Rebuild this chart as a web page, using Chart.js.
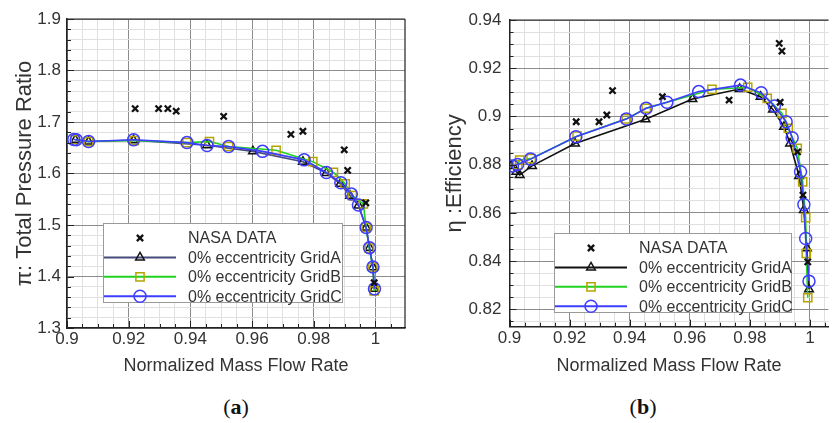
<!DOCTYPE html>
<html>
<head>
<meta charset="utf-8">
<script src="https://cdn.jsdelivr.net/npm/chart.js@4"></script>
<style>
  html, body { margin: 0; padding: 0; background: #fff; }
  body { width: 836px; height: 423px; position: relative; overflow: hidden; }
  .panel { position: absolute; top: 0; width: 418px; height: 390px; }
  .cap {
    position: absolute; top: 395px; line-height: 24px;
    font-family: "Liberation Serif", "DejaVu Serif", serif; font-size: 22px; color: #111;
    transform: translateX(-50%);
  }
</style>
</head>
<body>
<div class="panel" style="left:0"><canvas id="chartA"></canvas></div>
<div class="panel" style="left:418px"><canvas id="chartB"></canvas></div>
<div class="cap" style="left:236px">(<b>a</b>)</div>
<div class="cap" style="left:643px">(<b>b</b>)</div>

<script>
// ---- tick labels ----
const xTickLabels = ["0.9", "0.92", "0.94", "0.96", "0.98", "1"];
const yTickLabelsA = ["1.3", "1.4", "1.5", "1.6", "1.7", "1.8", "1.9"];
const yTickLabelsB = ["0.82", "0.84", "0.86", "0.88", "0.9", "0.92", "0.94"];

const legendLabels = ["NASA DATA", "0% eccentricity GridA", "0% eccentricity GridB", "0% eccentricity GridC"];

// ---- (a) total pressure ratio ----
const nasaXa = [0.9221, 0.9297, 0.9327, 0.9354, 0.9508, 0.9726, 0.9765, 0.9899, 0.9910, 0.9969, 0.9996];
const nasaYa = [1.726, 1.726, 1.726, 1.721, 1.711, 1.676, 1.682, 1.646, 1.606, 1.543, 1.388];

const gridAXa = [0.9027, 0.9070, 0.9216, 0.9454, 0.9603, 0.9765, 0.9841, 0.9886, 0.9918, 0.9945, 0.9970, 0.9981, 0.9992, 0.9996];
const gridAYa = [1.6655, 1.662, 1.6645, 1.655, 1.643, 1.623, 1.601, 1.580, 1.557, 1.538, 1.495, 1.456, 1.418, 1.376];

const gridBXa = [0.9027, 0.9070, 0.9218, 0.9389, 0.9462, 0.9524, 0.9678, 0.9797, 0.9864, 0.9902, 0.9925, 0.9961, 0.9970, 0.9980, 0.9992, 0.9996];
const gridBYa = [1.6655, 1.662, 1.664, 1.660, 1.662, 1.6524, 1.645, 1.623, 1.602, 1.580, 1.557, 1.541, 1.495, 1.455, 1.418, 1.372];

const gridCXa = [0.9022, 0.9030, 0.9070, 0.9216, 0.9389, 0.9454, 0.9524, 0.9634, 0.9769, 0.9841, 0.9888, 0.9922, 0.9945, 0.9970, 0.9981, 0.9992, 0.9997];
const gridCYa = [1.666, 1.6655, 1.662, 1.6655, 1.660, 1.6544, 1.6524, 1.643, 1.6265, 1.602, 1.582, 1.560, 1.539, 1.495, 1.456, 1.4185, 1.376];

// ---- (b) efficiency ----
const nasaXb = [0.9222, 0.9298, 0.9324, 0.9343, 0.9509, 0.9731, 0.9898, 0.9907, 0.9901, 0.9959, 0.9977, 0.9993];
const nasaYb = [0.8978, 0.8978, 0.9006, 0.9107, 0.9082, 0.9068, 0.9303, 0.9271, 0.9059, 0.8853, 0.8674, 0.8397];

const gridAXb = [0.9005, 0.9023, 0.9034, 0.9075, 0.9218, 0.9453, 0.9609, 0.9766, 0.9836, 0.9877, 0.9914, 0.9934, 0.9964, 0.9980, 0.9990, 0.9997];
const gridAYb = [0.8795, 0.8771, 0.8757, 0.8795, 0.8888, 0.8988, 0.9072, 0.9114, 0.9082, 0.9029, 0.8957, 0.8888, 0.8753, 0.8612, 0.8453, 0.8283];

const gridBXb = [0.9027, 0.9034, 0.9072, 0.9225, 0.9389, 0.9455, 0.9674, 0.9793, 0.9858, 0.9907, 0.9928, 0.9958, 0.9976, 0.9986, 0.9988, 0.9993];
const gridBYb = [0.8800, 0.8819, 0.8825, 0.8918, 0.8990, 0.9034, 0.9112, 0.9121, 0.9075, 0.9013, 0.8951, 0.8868, 0.8729, 0.8580, 0.8432, 0.8248];

const gridCXb = [0.9010, 0.9027, 0.9070, 0.9221, 0.9389, 0.9455, 0.9524, 0.9630, 0.9769, 0.9838, 0.9882, 0.9921, 0.9941, 0.9969, 0.9980, 0.9986, 0.9997];
const gridCYb = [0.8795, 0.8801, 0.8823, 0.8916, 0.8989, 0.9034, 0.9059, 0.9103, 0.9130, 0.9098, 0.9043, 0.8978, 0.8912, 0.8771, 0.8635, 0.8494, 0.8317];

const FONT = "'Liberation Sans', Arial, sans-serif";
const TEXT = "#333";

const pts = (xs, ys) => xs.map((x, i) => ({ x, y: ys[i] }));

// grid frame (top/right border + inward tick marks)
const framePlugin = {
  id: "frame",
  afterDatasetsDraw(chart, args, o) {
    const { ctx, chartArea: a } = chart;
    ctx.save();
    ctx.strokeStyle = "#222";
    ctx.lineWidth = 1.2;
    ctx.beginPath();
    ctx.moveTo(a.left, a.top); ctx.lineTo(a.right, a.top);
    if (o.right) { ctx.moveTo(a.right, a.top); ctx.lineTo(a.right, a.bottom); }
    ctx.stroke();
    ctx.lineWidth = 1;
    ctx.beginPath();
    chart.scales.x.ticks.forEach(t => {
      const px = Math.round(chart.scales.x.getPixelForValue(t.value)) + 0.5;
      const len = t.label ? 7 : 4;
      ctx.moveTo(px, a.bottom); ctx.lineTo(px, a.bottom - len);
    });
    chart.scales.y.ticks.forEach(t => {
      const py = Math.round(chart.scales.y.getPixelForValue(t.value)) + 0.5;
      const len = t.label ? 7 : 4;
      ctx.moveTo(a.left, py); ctx.lineTo(a.left + len, py);
    });
    ctx.stroke();
    ctx.restore();
  }
};

// legend box inside the plot: line sample with marker in the middle
const insetLegend = {
  id: "insetLegend",
  afterDraw(chart, args, o) {
    const ctx = chart.ctx;
    const { x, y, w, h } = o;
    ctx.save();
    ctx.fillStyle = "#fff";
    ctx.fillRect(x, y, w, h);
    ctx.strokeStyle = "#9a9a9a";
    ctx.lineWidth = 1;
    ctx.strokeRect(x + 0.5, y + 0.5, w, h);
    chart.data.datasets.forEach((ds, i) => {
      const cy = y + 15 + i * 19.4;
      if (ds.showLine) {
        ctx.strokeStyle = ds.borderColor;
        ctx.lineWidth = 2;
        ctx.beginPath();
        ctx.moveTo(x + 1, cy); ctx.lineTo(x + 73, cy);
        ctx.stroke();
      }
      ctx.strokeStyle = ds.pointBorderColor;
      ctx.fillStyle = "rgba(0,0,0,0)";
      ctx.lineWidth = ds.pointBorderWidth;
      Chart.helpers.drawPoint(ctx, {
        pointStyle: ds.pointStyle, radius: ds.pointRadius, rotation: 0,
        borderWidth: ds.pointBorderWidth
      }, x + 37, cy);
      ctx.fillStyle = TEXT;
      ctx.font = "16px " + FONT;
      ctx.textBaseline = "middle";
      ctx.textAlign = "left";
      ctx.fillText(ds.label, x + 85, cy + 1);
    });
    ctx.restore();
  }
};

function axis(min, max, minorStep, labels, extra) {
  const majors = labels.map(Number);
  const majorIndex = v => majors.findIndex(m => Math.abs(m - v) < 1e-7);
  return Object.assign({
    type: "linear",
    min, max,
    afterBuildTicks(scale) {
      const ticks = [];
      for (let k = Math.ceil(min / minorStep - 1e-6); k * minorStep <= max + 1e-9; k++) {
        ticks.push({ value: +(k * minorStep).toFixed(4) });
      }
      scale.ticks = ticks;
    },
    ticks: {
      autoSkip: false, maxRotation: 0,
      color: TEXT, font: { family: FONT, size: 17 },
      callback: v => { const i = majorIndex(v); return i < 0 ? "" : labels[i]; }
    },
    grid: {
      drawTicks: false, lineWidth: 1,
      color: c => (c.tick && majorIndex(c.tick.value) >= 0) ? "#8c8c8c" : "#e0e0e0"
    },
    border: { color: "#222", width: 1.5 }
  }, extra);
}

function makeChart(id, cfg) {
  const sets = [
    { xs: cfg.nasaX, ys: cfg.nasaY, style: "crossRot", r: 4.4, bw: 2.3, col: "#111", line: null, order: 0 },
    { xs: cfg.aX, ys: cfg.aY, style: "triangle", r: 5, bw: 1.5, col: "#111", line: cfg.gridAColor, order: 3 },
    { xs: cfg.bX, ys: cfg.bY, style: "rect", r: 5.8, bw: 1.5, col: "#b5a400", line: "#1fd21f", order: 2 },
    { xs: cfg.cX, ys: cfg.cY, style: "circle", r: 6, bw: 1.5, col: "#3d3dff", line: "#3d3dff", order: 1 }
  ];
  return new Chart(document.getElementById(id), {
    type: "scatter",
    data: {
      datasets: sets.map((s, i) => ({
        label: legendLabels[i],
        data: pts(s.xs, s.ys),
        showLine: !!s.line,
        borderColor: s.line || s.col,
        borderWidth: 1.6,
        tension: 0,
        pointStyle: s.style,
        pointRadius: s.r,
        pointBorderWidth: s.bw,
        pointBorderColor: s.col,
        pointBackgroundColor: "rgba(0,0,0,0)",
        order: s.order
      }))
    },
    options: {
      responsive: true,
      maintainAspectRatio: false,
      animation: false,
      layout: { padding: cfg.padding },
      plugins: {
        legend: { display: false },
        tooltip: { enabled: false },
        frame: { right: cfg.frameRight },
        insetLegend: cfg.legendBox
      },
      scales: {
        x: axis(0.9, cfg.xMax, 0.005, xTickLabels, {
          afterFit: s => { s.height = cfg.xAxisHeight; },
          title: {
            display: true, text: "Normalized Mass Flow Rate", color: TEXT,
            font: { family: FONT, size: 18 }, padding: { top: 0, bottom: 13 }
          }
        }),
        y: axis(cfg.yMin, cfg.yMax, cfg.yMinor, cfg.yLabels, {
          afterFit: s => { s.width = cfg.yAxisWidth; },
          title: {
            display: true, text: cfg.yTitle, color: TEXT,
            font: { family: FONT, size: 22 }, padding: { top: cfg.yTitlePad, bottom: 0 }
          }
        })
      }
    },
    plugins: [framePlugin, insetLegend]
  });
}

function build(id, cfg) {
  const chart = makeChart(id, cfg);
  chart.options.scales.x.ticks.padding = cfg.xTickPad;
  chart.options.scales.y.ticks.padding = cfg.yTickPad;
  chart.update();
  return chart;
}

build("chartA", {
  nasaX: nasaXa, nasaY: nasaYa, aX: gridAXa, aY: gridAYa, bX: gridBXa, bY: gridBYa, cX: gridCXa, cY: gridCYa,
  gridAColor: "#464a7c",
  xMax: 1.0096, yMin: 1.3, yMax: 1.9, yMinor: 0.02, yLabels: yTickLabelsA,
  yTitle: "\u03c0: Total Pressure Ratio", yTitlePad: 12,
  padding: { left: 0, top: 19, right: 13, bottom: 0 },
  yAxisWidth: 67, xAxisHeight: 62, frameRight: true,
  xTickPad: 1, yTickPad: 6,
  legendBox: { x: 103, y: 223, w: 239, h: 79 }
});

build("chartB", {
  nasaX: nasaXb, nasaY: nasaYb, aX: gridAXb, aY: gridAYb, bX: gridBXb, bY: gridBYb, cX: gridCXb, cY: gridCYb,
  gridAColor: "#111",
  xMax: 1.0062, yMin: 0.8128, yMax: 0.94, yMinor: 0.005, yLabels: yTickLabelsB,
  yTitle: "\u03b7 :Efficiency", yTitlePad: 24,
  padding: { left: 0, top: 20, right: 0, bottom: 0 },
  yAxisWidth: 91.5, xAxisHeight: 63.3, frameRight: false,
  xTickPad: 1, yTickPad: 8,
  legendBox: { x: 136, y: 233, w: 237, h: 79 }
});
</script>
</body>
</html>
